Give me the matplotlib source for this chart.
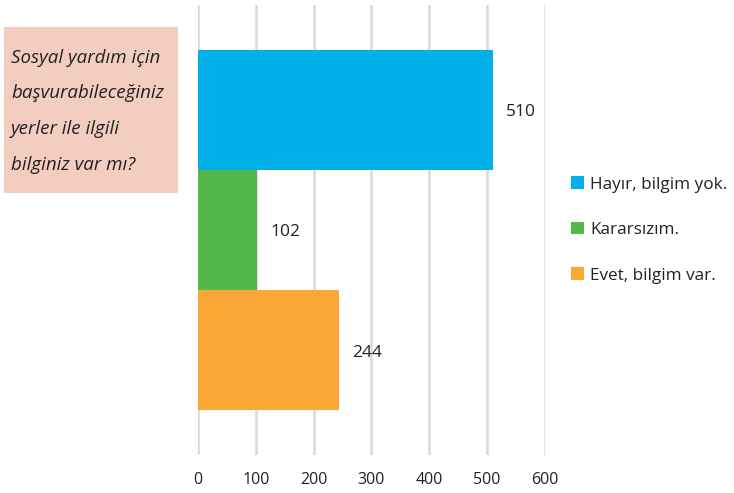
import matplotlib.pyplot as plt
from matplotlib.patches import Rectangle, Patch

categories = ['Hayır, bilgim yok.', 'Kararsızım.', 'Evet, bilgim var.']
values = [510, 102, 244]
colors = ['#00B0E6', '#52B84A', '#FBA735']
question = ['Sosyal yardım için', 'başvurabileceğiniz', 'yerler ile ilgili', 'bilginiz var mı?']
xticks = [0, 100, 200, 300, 400, 500, 600]

plt.rcParams['font.family'] = ['Open Sans', 'DejaVu Sans']

W, H = 734, 493
fig = plt.figure(figsize=(W / 100, H / 100), dpi=100)
ax = fig.add_axes([198 / W, 1 - 455 / H, (545 - 198) / W, 450 / H])

ypos = [2, 1, 0]
ax.barh(ypos, values, height=1.0, color=colors)
for y, v in zip(ypos, values):
    ax.text(v + 23, y - 0.02, str(v), va='center', ha='left', fontsize=12.5, color='#222222')

ax.set_xlim(0, 600)
ax.set_ylim(-0.87, 2.87)
ax.set_xticks(xticks)
ax.set_yticks([])
ax.xaxis.grid(True, color='#D9D9D9', linewidth=1.8)
ax.set_axisbelow(True)
for s in ax.spines.values():
    s.set_visible(False)
ax.tick_params(axis='x', length=0, pad=12, labelsize=11.5, labelcolor='#222222')

# question box
fig.patches.append(Rectangle((4 / W, 1 - 193 / H), 174 / W, 166 / H,
                             transform=fig.transFigure, facecolor='#F2CDC0',
                             edgecolor='none', zorder=0))
for i, line in enumerate(question):
    fig.text(11 / W, 1 - (58 + i * 35.5) / H, line, fontsize=13.5, style='italic',
             va='center', ha='left', color='#222222')

handles = [Patch(facecolor=c, edgecolor='none') for c in colors]
fig.legend(handles, categories, loc='center left', bbox_to_anchor=(556 / W, 1 - 230 / H),
           frameon=False, fontsize=12.3, handlelength=0.75, handleheight=0.75,
           handletextpad=0.35, labelspacing=1.72, labelcolor='#222222')

fig.savefig('out.png', dpi=100)
